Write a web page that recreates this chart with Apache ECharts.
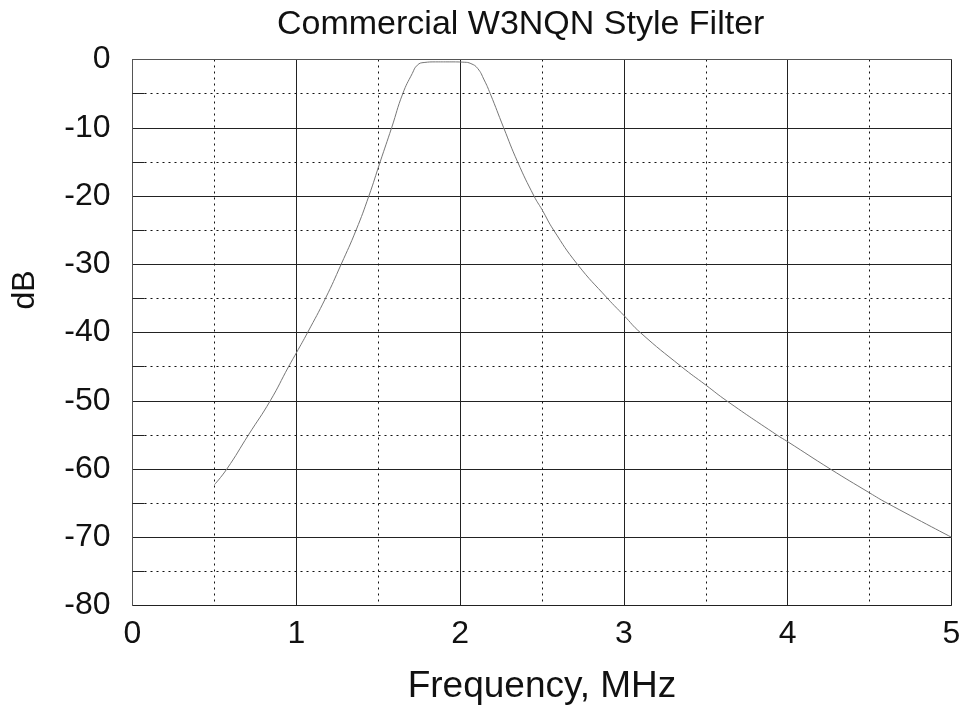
<!DOCTYPE html>
<html>
<head>
<meta charset="utf-8">
<title>Commercial W3NQN Style Filter</title>
<script src="https://cdn.jsdelivr.net/npm/echarts@6/dist/echarts.min.js"></script>
<style>
  html, body { margin: 0; padding: 0; background: #fff; }
  #chart { width: 962px; height: 707px; }
</style>
</head>
<body>
<div id="chart"></div>
<script>
// Filter response: frequency (MHz) vs attenuation (dB)
const freqMHz = [0.5, 0.576, 0.708, 0.841, 0.953, 1.0, 1.069, 1.178, 1.274, 1.365, 1.443, 1.512, 1.582, 1.65, 1.708, 1.739, 1.78, 1.85, 1.95, 2.025, 2.066, 2.107, 2.147, 2.184, 2.266, 2.351, 2.451, 2.5, 2.571, 2.716, 2.9, 3.0, 3.1, 3.351, 3.5, 3.627, 3.933, 4.0, 4.26, 4.5, 4.607, 5.0];
const responseDb = [-62.3, -60, -55, -50, -45, -43.0, -40, -35, -30, -25, -20, -15, -10, -5, -2.05, -0.83, -0.44, -0.35, -0.35, -0.4, -0.6, -1.3, -3.0, -5, -10, -15, -20, -22.0, -25, -30, -35, -37.5, -40, -45, -47.7, -50, -55, -56.0, -60, -63.5, -65, -70];
const xTicks = [0, 1, 2, 3, 4, 5];
const yTicks = [0, -10, -20, -30, -40, -50, -60, -70, -80];

const FONT = '"Liberation Sans", Arial, sans-serif';
const points = freqMHz.map((f, i) => [f, responseDb[i]]);

const chart = echarts.init(document.getElementById('chart'), null, { renderer: 'canvas' });

const minorDash = { color: '#111', width: 1, type: [2, 4] };

chart.setOption({
  animation: false,
  backgroundColor: '#fff',
  title: {
    text: 'Commercial W3NQN Style Filter',
    left: 277,
    top: 8,
    padding: 0,
    textStyle: { fontFamily: FONT, fontSize: 34, fontWeight: 'normal', color: '#111' }
  },
  grid: {
    left: 132.5, right: 10.5, top: 59.5, bottom: 101.5,
    outerBoundsMode: 'none',
    containLabel: false,
    show: true, borderColor: '#777', borderWidth: 1, backgroundColor: '#fff'
  },
  xAxis: {
    type: 'value',
    min: xTicks[0], max: xTicks[xTicks.length - 1], interval: 1,
    name: 'Frequency, MHz',
    nameLocation: 'middle',
    nameGap: 63,
    nameTextStyle: { fontFamily: FONT, fontSize: 37, color: '#111' },
    axisLine: { show: true, lineStyle: { color: '#555', width: 1 } },
    axisTick: { show: false },
    minorTick: { show: false, splitNumber: 2 },
    axisLabel: { fontFamily: FONT, fontSize: 32, color: '#111', margin: 13 },
    splitLine: { show: true, lineStyle: { color: '#222', width: 1 } },
    minorSplitLine: { show: true, lineStyle: minorDash }
  },
  yAxis: {
    type: 'value',
    min: yTicks[yTicks.length - 1], max: yTicks[0], interval: 10,
    axisLine: { show: true, lineStyle: { color: '#555', width: 1 } },
    axisTick: { show: false, inside: true },
    minorTick: { show: true, splitNumber: 2, length: 12, lineStyle: { color: '#222', width: 1 } },
    axisLabel: { fontFamily: FONT, fontSize: 32, color: '#111', margin: 22 },
    splitLine: { show: true, lineStyle: { color: '#222', width: 1 } },
    minorSplitLine: { show: true, lineStyle: minorDash }
  },
  graphic: [{
    type: 'text',
    x: 25, y: 290,
    rotation: Math.PI / 2,
    style: {
      text: 'dB',
      font: '32px ' + FONT,
      fill: '#111',
      align: 'center',
      verticalAlign: 'middle'
    }
  }],
  series: [{
    type: 'line',
    data: points,
    showSymbol: false,
    smooth: 0.5,
    lineStyle: { color: '#777', width: 1 },
    silent: true
  }]
});
</script>
</body>
</html>
